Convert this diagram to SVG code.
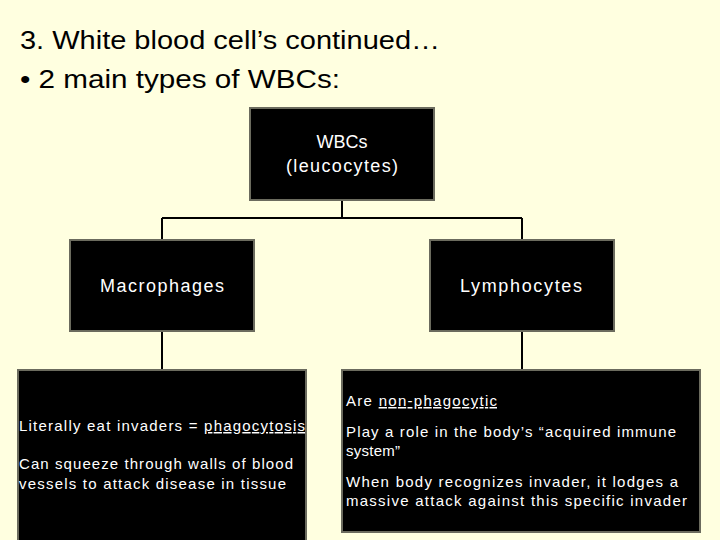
<svg xmlns="http://www.w3.org/2000/svg" width="720" height="540" viewBox="0 0 720 540">
<style>
.box{fill:#000;stroke:#6b6b5e;stroke-width:2}
.t{fill:#fff;font-family:"Liberation Sans",Arial,sans-serif}
.c{font-size:18px;text-anchor:middle}
.s{font-size:15px}
.line{stroke:#000;stroke-width:2;fill:none}
.title{font-family:"Liberation Sans",Arial,sans-serif;font-size:26px;fill:#000}
</style>
<rect width="720" height="540" fill="#FFFFE0"/>
<text class="title" x="20" y="49" textLength="420" lengthAdjust="spacingAndGlyphs">3. White blood cell’s continued…</text>
<text class="title" x="20" y="88" textLength="320" lengthAdjust="spacingAndGlyphs">• 2 main types of WBCs:</text>
<g id="connectors">
<path class="line" d="M342 200V218M162 218H522M162 218V240M522 218V240M162 331V370M522 331V370"/>
</g>
<g id="wbcs"><rect class="box" x="250" y="108" width="184" height="92"/>
<text class="t c" x="342" y="148">WBCs</text><text class="t c" x="342" y="172" textLength="112">(leucocytes)</text></g>
<g id="macrophages"><rect class="box" x="70" y="240" width="184" height="91"/>
<text class="t c" x="162" y="292" textLength="124">Macrophages</text></g>
<g id="lymphocytes"><rect class="box" x="430" y="240" width="184" height="91"/>
<text class="t c" x="521" y="292" textLength="122">Lymphocytes</text></g>
<g id="macro-desc"><rect class="box" x="18" y="370" width="288" height="172"/>
<text class="t s" x="19" y="431" textLength="286">Literally eat invaders = <tspan text-decoration="underline">phagocytosis</tspan></text>
<text class="t s" x="19" y="469" textLength="274">Can squeeze through walls of blood</text>
<text class="t s" x="19" y="489" textLength="267">vessels to attack disease in tissue</text></g>
<g id="lympho-desc"><rect class="box" x="342" y="370" width="358" height="162"/>
<text class="t s" x="346" y="406" textLength="151">Are <tspan text-decoration="underline">non-phagocytic</tspan></text>
<text class="t s" x="346" y="437" textLength="330">Play a role in the body’s “acquired immune</text>
<text class="t s" x="346" y="456" textLength="54">system”</text>
<text class="t s" x="346" y="487" textLength="332">When body recognizes invader, it lodges a</text>
<text class="t s" x="346" y="506" textLength="341">massive attack against this specific invader</text></g>
</svg>
